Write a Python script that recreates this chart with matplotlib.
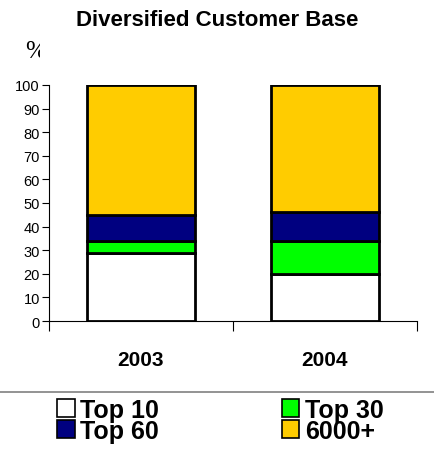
import matplotlib
matplotlib.use('Agg')
import matplotlib.pyplot as plt
from matplotlib.transforms import Bbox
import numpy as np

years = ['2003', '2004']
series = ['Top 10', 'Top 30', 'Top 60', '6000+']
top10 = [29, 20]
top30 = [5, 14]
top60 = [11, 12]
rest = [55, 54]
colors = ['#FFFFFF', '#00FF00', '#000080', '#FFCC00']

plt.rcParams['font.family'] = ['Liberation Sans', 'DejaVu Sans']

fig = plt.figure(figsize=(4.35, 4.52), dpi=100)
ax = fig.add_axes([49/435, 1-322/452, 368/435, 236/452])

x = np.arange(len(years))
bottom = np.zeros(len(years))
handles = []
for name, vals, c in zip(series, [top10, top30, top60, rest], colors):
    b = ax.bar(x, vals, 0.59, bottom=bottom, color=c, edgecolor='black', linewidth=2, label=name)
    handles.append(b)
    bottom += np.array(vals)

ax.set_xlim(-0.5, 1.5)
ax.set_ylim(0, 100)
ax.set_yticks(range(0, 101, 10))
ax.tick_params(axis='y', labelsize=10.5, length=5, width=0.8, pad=1.5)
ax.set_xticks([-0.5, 0.5, 1.5], minor=False)
ax.set_xticklabels([])
ax.set_xticks(x, minor=True)
ax.set_xticklabels(years, minor=True, fontsize=15, fontweight='bold')
ax.tick_params(axis='x', which='major', length=7, width=0.8)
ax.tick_params(axis='x', which='minor', length=0, pad=21)
for s in ['top', 'right']:
    ax.spines[s].set_visible(False)
for s in ['left', 'bottom']:
    ax.spines[s].set_linewidth(0.8)

fig.text(0.5, 1-20/452, 'Diversified Customer Base', ha='center', va='center',
         fontsize=16, fontweight='bold')
pct = fig.text(25/435, 1-52/452, '%', ha='left', va='center', fontsize=18,
               family='Liberation Serif')
pct.set_clip_box(Bbox([[0, 0], [40, 452]]))

fig.add_artist(plt.Line2D([0, 1], [1-393/452, 1-393/452], color='#808080', linewidth=1.2))

leg = fig.legend([handles[0], handles[2], handles[1], handles[3]],
                 ['Top 10', 'Top 60', 'Top 30', '6000+'],
                 ncol=2, loc='upper left', bbox_to_anchor=(57/435, 1-399/452),
                 frameon=False, prop={'weight': 'bold', 'size': 18},
                 handlelength=0.7, handleheight=0.75, handletextpad=0.23,
                 columnspacing=4.9, labelspacing=-0.12, borderpad=0, borderaxespad=0)
for h in leg.legend_handles:
    h.set_linewidth(1.2)

fig.savefig('out.png', dpi=100)
